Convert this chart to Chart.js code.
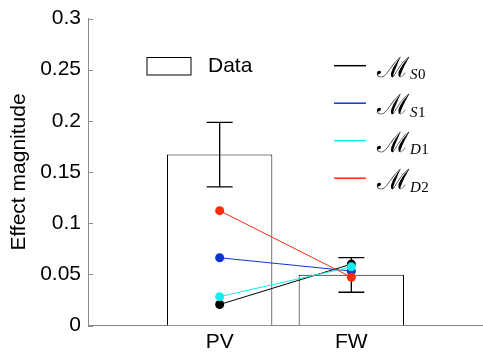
<!DOCTYPE html>
<html>
<head>
<meta charset="utf-8">
<script src="https://cdn.jsdelivr.net/npm/chart.js@4.4.1/dist/chart.umd.min.js"></script>
<style>
  html, body { margin: 0; padding: 0; background: #fff; }
  canvas { display: block; }
</style>
</head>
<body>
<canvas id="myChart" width="483" height="354"></canvas>
<script>
// data
const categories = ['PV', 'FW'];
const dataMean = [0.167, 0.0495];
const errLow = [0.1355, 0.0325];
const errHigh = [0.1985, 0.0663];
const modelNames = ['S0', 'S1', 'D1', 'D2'];
const mS0 = [0.0205, 0.0600];
const mS1 = [0.0662, 0.0532];
const mD1 = [0.0282, 0.0573];
const mD2 = [0.1122, 0.0472];
const modelColors = ['#000000', '#0a37d2', '#10eef0', '#ff2a0a'];
const yTicks = [0, 0.05, 0.1, 0.15, 0.2, 0.25, 0.3];

const FONT = '"Liberation Sans", Arial, sans-serif';
const AXIS_GREY = '#8a8a8a';

// empty slots at both ends so categories sit at 1/3 and 2/3 of the axis
const labels = [''].concat(categories, ['']);
function pad(v) { return [null].concat(v, [null]); }

const modelSeries = [mS0, mS1, mD1, mD2];
const lineSets = modelSeries.map(function (s, i) {
    return {
        type: 'line',
        data: pad(s),
        borderColor: modelColors[i],
        backgroundColor: modelColors[i],
        borderWidth: 1,
        pointRadius: 4.5,
        pointBorderWidth: 0,
        pointBackgroundColor: modelColors[i],
        order: 4 - i,
    };
});

// error bars, drawn right after the bars
const errorBars = {
    id: 'errorBars',
    afterDatasetDraw(chart, args) {
        if (args.index !== 0) return;
        const ctx = chart.ctx;
        const x = chart.scales.x, y = chart.scales.y;
        ctx.save();
        ctx.strokeStyle = '#000';
        ctx.lineWidth = 1.3;
        categories.forEach(function (c, i) {
            const px = x.getPixelForValue(i + 1);
            const top = y.getPixelForValue(errHigh[i]);
            const bot = y.getPixelForValue(errLow[i]);
            ctx.beginPath();
            ctx.moveTo(px, top); ctx.lineTo(px, bot);
            ctx.moveTo(px - 13, top); ctx.lineTo(px + 13, top);
            ctx.moveTo(px - 13, bot); ctx.lineTo(px + 13, bot);
            ctx.stroke();
        });
        ctx.restore();
    }
};

// inward y ticks + legends
const extras = {
    id: 'extras',
    afterDraw(chart) {
        const ctx = chart.ctx;
        const y = chart.scales.y;
        const left = chart.chartArea.left;
        ctx.save();
        ctx.strokeStyle = AXIS_GREY;
        ctx.lineWidth = 1;
        y.ticks.forEach(function (t) {
            const py = Math.round(y.getPixelForValue(t.value)) + 0.5;
            ctx.beginPath();
            ctx.moveTo(left, py);
            ctx.lineTo(left + 5, py);
            ctx.stroke();
        });

        // "Data" legend
        ctx.strokeStyle = '#000';
        ctx.fillStyle = '#fff';
        ctx.fillRect(147, 57.5, 44, 17.5);
        ctx.strokeRect(147, 57.5, 44, 17.5);
        ctx.fillStyle = '#000';
        ctx.font = '21px ' + FONT;
        ctx.textBaseline = 'middle';
        ctx.fillText('Data', 208, 66.5);

        // model legend: calligraphic M with an italic letter + upright digit subscript
        modelNames.forEach(function (name, i) {
            const ly = 65.7 + i * 37.5;
            ctx.strokeStyle = modelColors[i];
            ctx.lineWidth = 1.5;
            ctx.beginPath();
            ctx.moveTo(334, ly);
            ctx.lineTo(366, ly);
            ctx.stroke();
            ctx.fillStyle = '#000';
            ctx.textBaseline = 'alphabetic';
            ctx.font = '28px "DejaVu Serif", serif';
            ctx.fillText('\u2133', 377, ly + 11);
            let sx = 377 + ctx.measureText('\u2133').width + 1;
            ctx.font = 'italic 15px "Liberation Serif", serif';
            ctx.fillText(name[0], sx, ly + 13.5);
            sx += ctx.measureText(name[0]).width + 0.5;
            ctx.font = '15px "Liberation Serif", serif';
            ctx.fillText(name.slice(1), sx, ly + 13.5);
        });
        ctx.restore();
    }
};

const ctx = document.getElementById('myChart').getContext('2d');
const myChart = new Chart(ctx, {
    data: {
        labels: labels,
        datasets: [
            {
                type: 'bar',
                data: pad(dataMean),
                backgroundColor: '#ffffff',
                borderColor: '#000000',
                borderWidth: 1,
                barPercentage: 0.8,
                categoryPercentage: 1,
                order: 10,
            },
        ].concat(lineSets),
    },
    options: {
        responsive: false,
        animation: false,
        devicePixelRatio: 1,
        layout: {
            autoPadding: false,
            padding: { top: 18.5, right: 0, left: 0, bottom: 0 },
        },
        plugins: {
            legend: { display: false },
            tooltip: { enabled: false },
        },
        scales: {
            x: {
                offset: false,
                grid: { display: false, drawTicks: false },
                border: { display: true, color: AXIS_GREY, width: 1 },
                ticks: {
                    color: '#000',
                    font: { family: FONT, size: 21 },
                    padding: 4,
                    maxRotation: 0,
                    autoSkip: false,
                },
                afterFit(scale) {
                    scale.height = 28.5;
                    scale.paddingLeft = 0;
                    scale.paddingRight = 0;
                },
            },
            y: {
                min: 0,
                max: 0.3,
                grid: { display: false, drawTicks: false },
                border: { display: true, color: AXIS_GREY, width: 1 },
                afterBuildTicks(scale) {
                    scale.ticks = yTicks.map(function (v) { return { value: v }; });
                },
                ticks: {
                    color: '#000',
                    font: { family: FONT, size: 21 },
                    padding: 7,
                    callback: function (v) { return String(v); },
                },
                title: {
                    display: true,
                    text: 'Effect magnitude',
                    color: '#000',
                    font: { family: FONT, size: 21 },
                    padding: { top: 7, bottom: 0 },
                },
                afterFit(scale) {
                    scale.width = 88;
                    scale.paddingTop = 0;
                    scale.paddingBottom = 0;
                },
            },
        },
    },
    plugins: [errorBars, extras],
});
</script>
</body>
</html>
